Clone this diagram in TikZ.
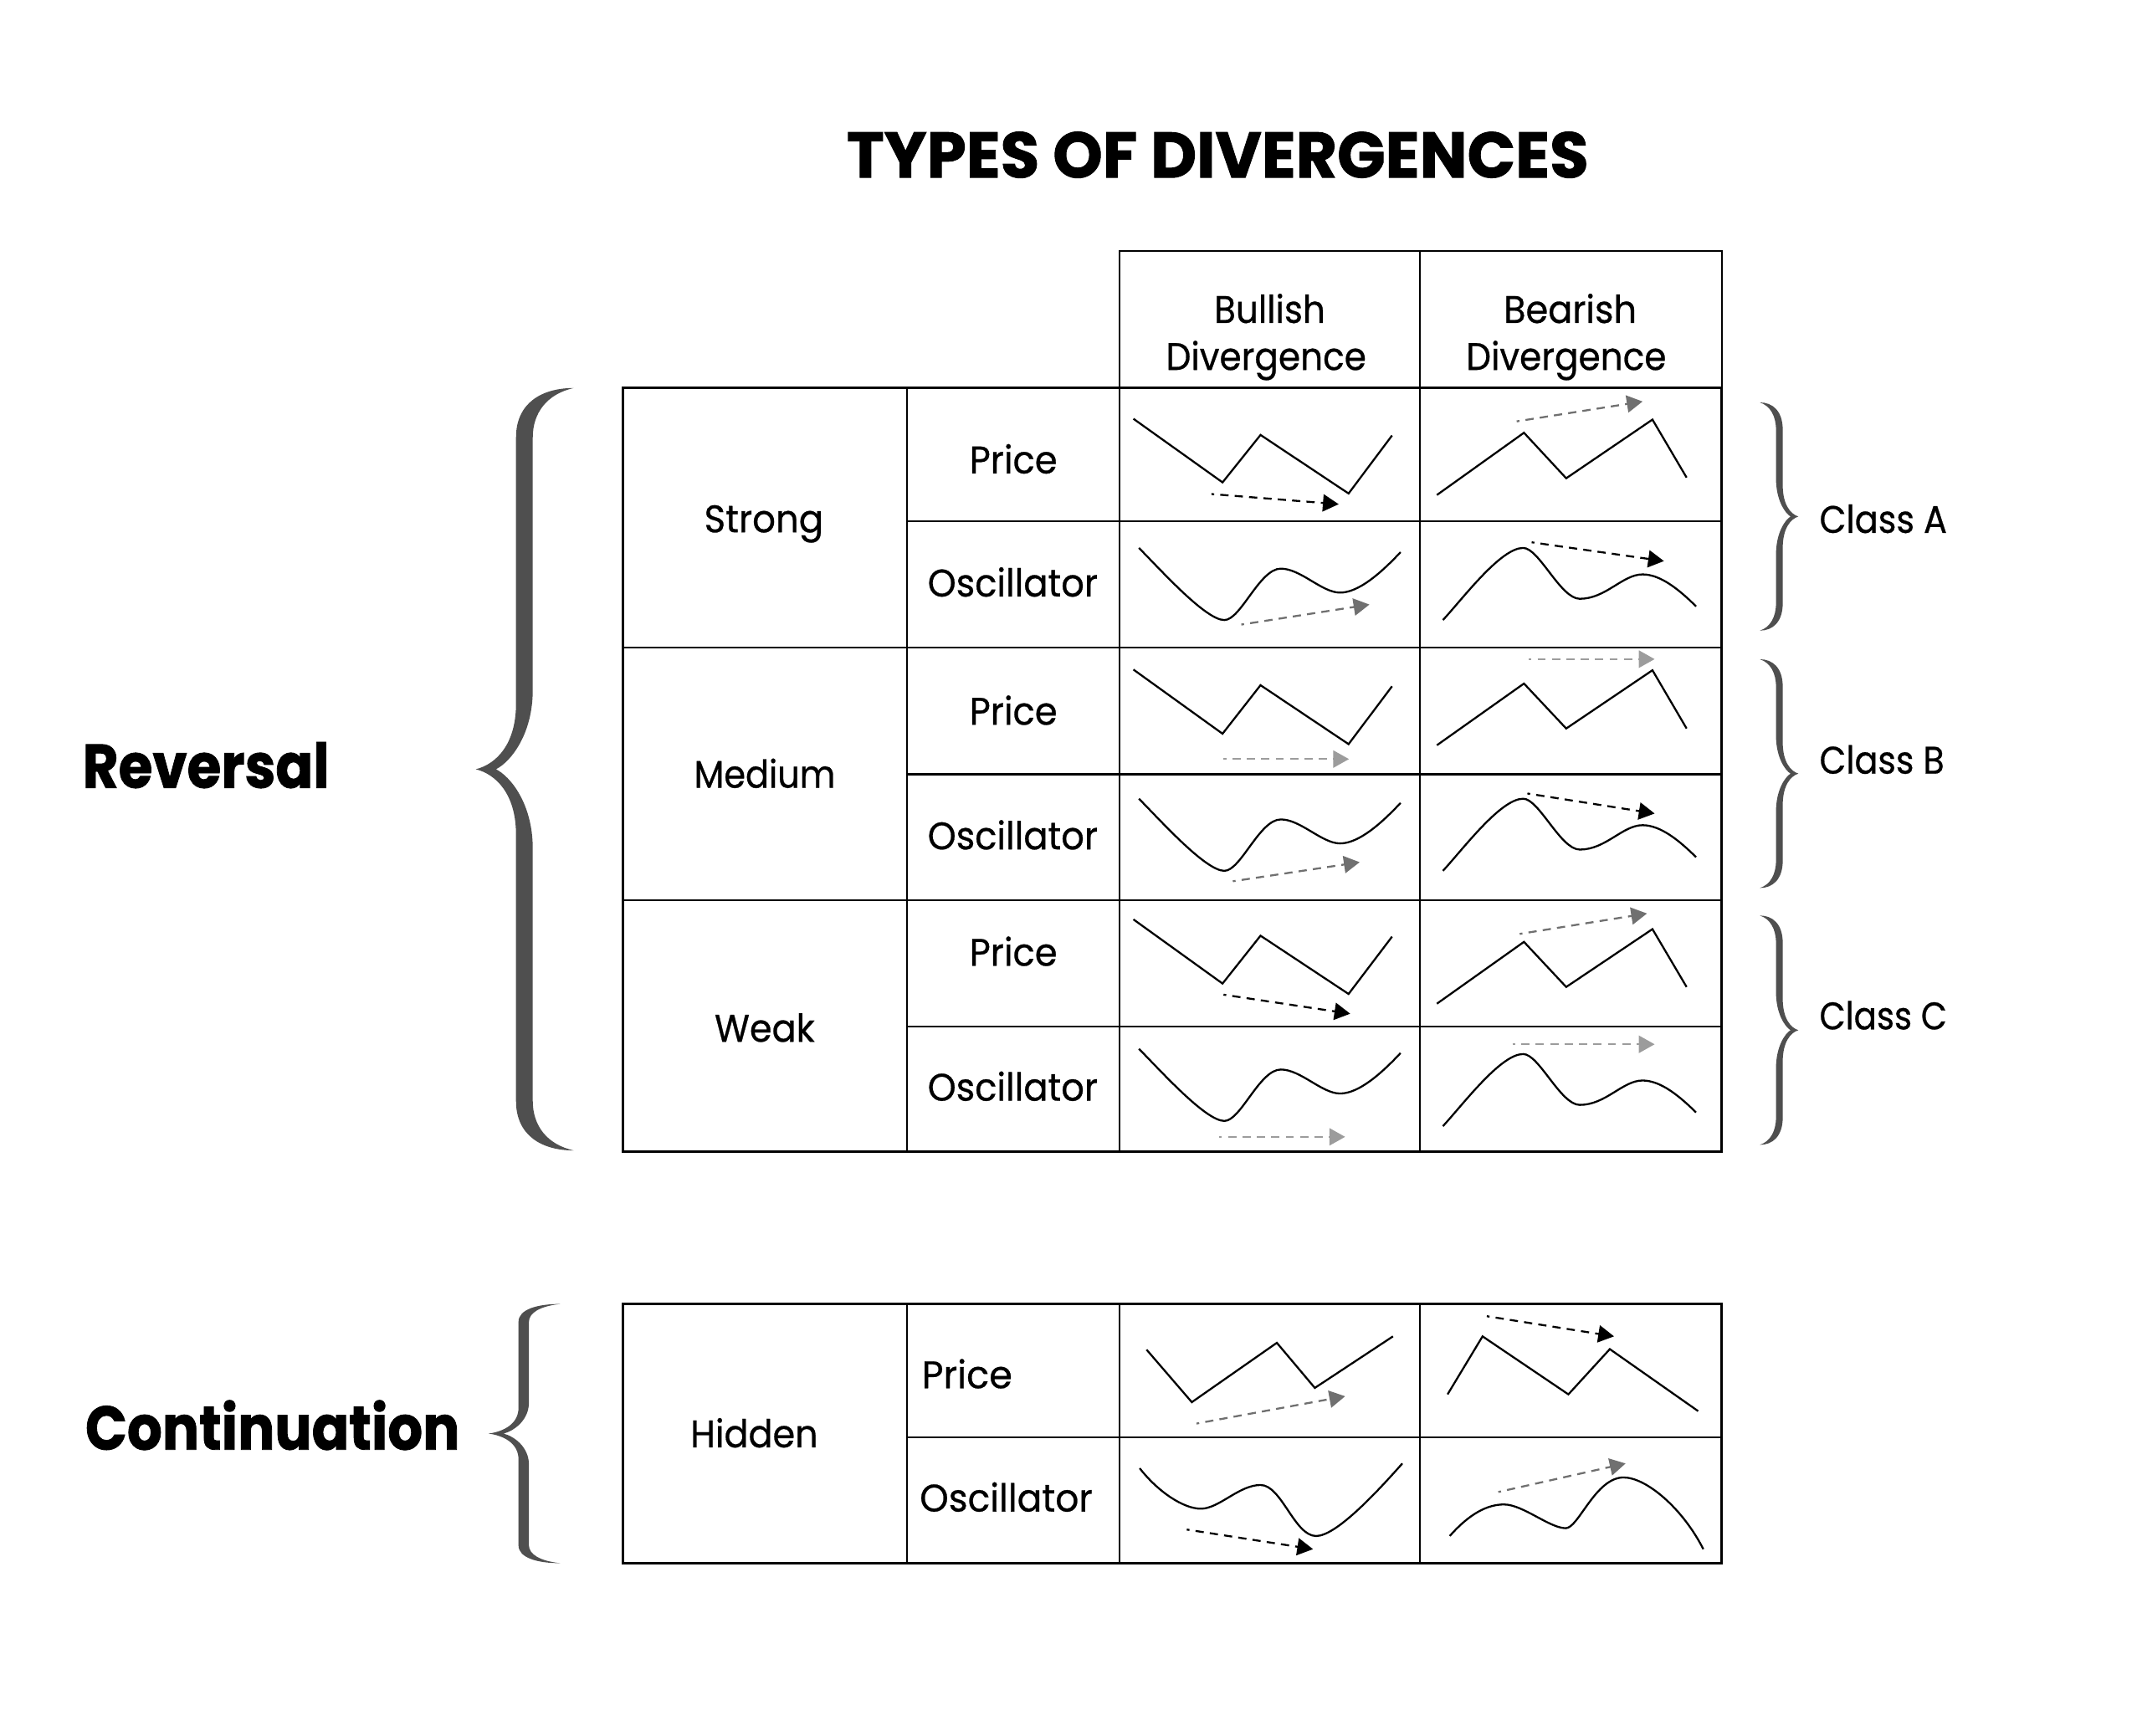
\documentclass[tikz,border=0pt]{standalone}
\usepackage{graphicx}
\usepackage{fontspec}
\setmainfont{Poppins}
\newfontfamily\lblfont{Poppins}[FakeBold=0.6]
\newfontfamily\heavyfont{Poppins}[BoldFeatures={FakeBold=1.2}]
\usetikzlibrary{arrows.meta}
\definecolor{bracecol}{HTML}{4F4F4F}
\definecolor{arrdark}{HTML}{707070}
\definecolor{arrlight}{HTML}{9C9C9C}
\newcommand\fw[2]{\resizebox{#1pt}{\height}{#2}}
\newcommand\cbrace[9]{%
  \pgfmathsetmacro\bYm{(#8+#9)/2}%
  \pgfmathsetmacro\bXi{#1+(#2)*#3}%
  \pgfmathsetmacro\bXa{#1-(#2)*#4}%
  \pgfmathsetmacro\bXn{#1-(#2)*#4*0.5}%
  \pgfmathsetmacro\bXnc{#1-(#2)*#4*0.15}%
  \pgfmathsetmacro\bXac{#1-(#2)*#4*0.5}%
  \pgfmathsetmacro\bXe{#1+(#2)*#5}%
  \pgfmathsetmacro\bXc{#1+(#2)*#5*0.45}%
  \pgfmathsetmacro\bXci{#1+(#2)*(#3+(#5-#3)*0.35)}%
  \pgfmathsetmacro\bYa{#8+0.3*#6}%
  \pgfmathsetmacro\bYb{#8+#6}%
  \pgfmathsetmacro\bYc{\bYm-1.04*#7}%
  \pgfmathsetmacro\bYd{\bYm-0.39*#7}%
  \pgfmathsetmacro\bYe{\bYm-0.08*#7}%
  \pgfmathsetmacro\bYf{\bYm+0.08*#7}%
  \pgfmathsetmacro\bYg{\bYm+0.39*#7}%
  \pgfmathsetmacro\bYh{\bYm+1.04*#7}%
  \pgfmathsetmacro\bYi{#9-#6}%
  \pgfmathsetmacro\bYj{#9-0.3*#6}%
  \pgfmathsetmacro\bYk{#9-0.12*#6}%
  \pgfmathsetmacro\bYl{#9-0.5*#6}%
  \pgfmathsetmacro\bYn{\bYm+1.26*#7}%
  \pgfmathsetmacro\bYo{\bYm+0.54*#7}%
  \pgfmathsetmacro\bYp{\bYm+0.11*#7}%
  \pgfmathsetmacro\bYq{\bYm-0.11*#7}%
  \pgfmathsetmacro\bYr{\bYm-0.54*#7}%
  \pgfmathsetmacro\bYs{\bYm-1.26*#7}%
  \pgfmathsetmacro\bYt{#8+0.5*#6}%
  \pgfmathsetmacro\bYu{#8+0.12*#6}%
  \fill[bracecol] (\bXe,#8) .. controls (\bXc,#8) and (#1,\bYa) .. (#1,\bYb)
    -- (#1,\bYc) .. controls (#1,\bYd) and (\bXac,\bYe) .. (\bXa,\bYm)
    .. controls (\bXac,\bYf) and (#1,\bYg) .. (#1,\bYh)
    -- (#1,\bYi) .. controls (#1,\bYj) and (\bXc,#9) .. (\bXe,#9)
    .. controls (\bXci,\bYk) and (\bXi,\bYl) .. (\bXi,\bYi)
    -- (\bXi,\bYn) .. controls (\bXi,\bYo) and (\bXnc,\bYp) .. (\bXn,\bYm)
    .. controls (\bXnc,\bYq) and (\bXi,\bYr) .. (\bXi,\bYs)
    -- (\bXi,\bYb) .. controls (\bXi,\bYt) and (\bXci,\bYu) .. (\bXe,#8) -- cycle;
}
\newcommand\bullosc[1]{\draw[curve] (830.5,#1) .. controls (845.5,#1+15) and (879,#1+52.6) .. (892.8,#1+52.6)
  .. controls (904.8,#1+52.6) and (918.5,#1+15.1) .. (934,#1+15.1)
  .. controls (948.5,#1+15.1) and (963.9,#1+32.6) .. (977.2,#1+32.6)
  .. controls (990.9,#1+32.6) and (1007.3,#1+18) .. (1021.3,#1+3.1);}
\newcommand\bearosc[1]{\draw[curve] (1052.2,#1+52.6) .. controls (1067,#1+36.6) and (1094.3,#1) .. (1110.7,#1)
  .. controls (1122.3,#1) and (1138,#1+37.1) .. (1152,#1+37.1)
  .. controls (1171,#1+37.1) and (1183.2,#1+19.3) .. (1197.8,#1+19.3)
  .. controls (1211.2,#1+19.3) and (1225,#1+31) .. (1236.8,#1+42.6);}
\begin{document}
\begin{tikzpicture}[x=1pt,y=-1pt,
  tbl/.style={line width=1.3pt,draw=black},
  outerbox/.style={line width=1.8pt,draw=black},
  curve/.style={line width=1.4pt,line join=miter},
  darr/.style={line width=1.4pt,dash pattern=on 6pt off 4.5pt,dash phase=4pt,-{Triangle[length=11.5pt,width=12.5pt]}},
  blk/.style={darr,color=black},
  gry/.style={darr,color=arrdark},
  lgry/.style={darr,color=arrlight},
  lbl/.style={font=\lblfont\fontsize{28}{32}\selectfont,inner sep=0pt,anchor=base},
  lblw/.style={lbl,anchor=base west},
  big/.style={font=\heavyfont\fontsize{45}{52}\selectfont\bfseries,inner sep=0pt,anchor=base west}]
\fill[white] (0,0) rectangle (1562,1266);
\useasboundingbox (0,0) rectangle (1562,1266);

% title
\node[inner sep=0pt,anchor=base] (title) at (888,129.5) {\fw{541}{\heavyfont\fontsize{47}{55}\selectfont\bfseries TYPES OF DIVERGENCES}};

% header box
\draw[tbl] (816.6,183) rectangle (1255.5,282.7);
\draw[tbl] (1035.3,183) -- (1035.3,282.7);
\node[lbl] (hb1) at (925.9,235.5) {\fw{81}{Bullish}};
\node[lbl] (hb2) at (923.3,269.8) {\fw{146}{Divergence}};
\node[lbl] (hr1) at (1145,235.5) {\fw{97}{Bearish}};
\node[lbl] (hr2) at (1142.1,269.8) {\fw{146}{Divergence}};

% main table
\draw[tbl] (661.3,282.7) -- (661.3,840);
\draw[tbl] (816.6,282.7) -- (816.6,840);
\draw[tbl] (1035.3,282.7) -- (1035.3,840);
\draw[tbl] (454,472.4) -- (1255.5,472.4);
\draw[tbl] (454,656.4) -- (1255.5,656.4);
\draw[tbl] (661.3,379.9) -- (1255.5,379.9);
\draw[tbl] (661.3,564.7) -- (1255.5,564.7);
\draw[tbl] (661.3,748.4) -- (1255.5,748.4);
\draw[outerbox] (454,282.7) rectangle (1255.5,840);

% bottom table
\draw[tbl] (661.3,950.8) -- (661.3,1139.9);
\draw[tbl] (816.6,950.8) -- (816.6,1139.9);
\draw[tbl] (1035.3,950.8) -- (1035.3,1139.9);
\draw[tbl] (661.3,1048) -- (1255.5,1048);
\draw[outerbox] (454,950.8) rectangle (1255.5,1139.9);

% row labels
\node[lbl] (strong) at (557,388.2) {\fw{87}{Strong}};
\node[lbl] (p1) at (739,345.2) {\fw{64}{Price}};
\node[lbl] (o1) at (738.5,435) {\fw{124}{Oscillator}};
\node[lbl] (medium) at (557.7,574.5) {\fw{103}{Medium}};
\node[lbl] (p2) at (739,528.5) {\fw{64}{Price}};
\node[lbl] (o2) at (738.5,619.4) {\fw{124}{Oscillator}};
\node[lbl] (weak) at (557.6,759.7) {\fw{73}{Weak}};
\node[lbl] (p3) at (739,704.3) {\fw{64}{Price}};
\node[lbl] (o3) at (738.5,802.7) {\fw{124}{Oscillator}};
\node[lbl] (hidden) at (550,1055.5) {\fw{93}{Hidden}};
\node[lblw] (p4) at (672,1012.4) {\fw{66}{Price}};
\node[lblw] (o4) at (670.5,1102.3) {\fw{126}{Oscillator}};

% class labels
\node[lblw] (ca) at (1326.6,388.6) {\fw{93}{Class A}};
\node[lblw] (cb) at (1326.6,564.2) {\fw{91}{Class B}};
\node[lblw] (cc) at (1326.6,750.7) {\fw{93}{Class C}};

% big labels
\node[big] (rev) at (60,574.5) {\fw{180}{Reversal}};
\node[big] (cont) at (62,1057.2) {\fw{273}{Continuation}};

% braces
\cbrace{376.3}{1}{12.2}{29.3}{42}{36}{46}{283}{839}
\cbrace{378.1}{1}{7.6}{21.8}{30.4}{13}{18}{951}{1140}
\cbrace{1300}{-1}{4.9}{11.4}{16.7}{20}{22}{293.5}{459.9}
\cbrace{1300}{-1}{4.9}{11.4}{16.7}{20}{22}{480.8}{647.6}
\cbrace{1300}{-1}{4.9}{11.4}{16.7}{20}{22}{667.7}{834.9}

% strong row
\draw[curve] (826.5,305.4) -- (891.5,351.8) -- (919.2,317.2) -- (983.4,359.9) -- (1015.1,317.6);
\draw[blk] (883.4,360.3) -- (976.2,367.7);
\draw[curve] (1047.8,361) -- (1111.3,315.6) -- (1142.1,348.8) -- (1205,306) -- (1229.9,348.3);
\draw[gry] (1106,307.3) -- (1197.8,292.8);
\bullosc{399.6}
\draw[gry] (905.2,455.5) -- (998.6,440.9);
\bearosc{399.6}
\draw[blk] (1116.9,395.5) -- (1213.4,409.2);

% medium row
\draw[curve] (826.5,488.3) -- (891.5,535.1) -- (919.2,499.7) -- (983.4,542.7) -- (1015.1,500.5);
\draw[lgry] (892.2,553.6) -- (983.7,553.6);
\draw[curve] (1047.8,543.5) -- (1111.3,498.5) -- (1142.1,531.3) -- (1205,488.8) -- (1229.9,531.3);
\draw[lgry] (1114.7,480.7) -- (1206.6,480.7);
\bullosc{582.5}
\draw[gry] (899,642.7) -- (991.5,628.8);
\bearosc{582.5}
\draw[blk] (1113.8,578.7) -- (1206.6,593.3);

% weak row
\draw[curve] (826.5,670.5) -- (891.5,717.3) -- (919.2,682.4) -- (983.4,724.9) -- (1015.1,683.1);
\draw[blk] (892.2,725.4) -- (984.6,739.3);
\draw[curve] (1047.8,732) -- (1111.3,686.9) -- (1142.1,719.8) -- (1205,677.6) -- (1229.9,719.8);
\draw[gry] (1108.2,681.1) -- (1201,666.2);
\bullosc{764.9}
\draw[lgry] (889,829.1) -- (980.9,829.1);
\bearosc{768.7}
\draw[lgry] (1102.9,761.6) -- (1206.6,761.6);

% hidden row
\draw[curve] (836.1,984.3) -- (869.1,1022.6) -- (931.1,979.3) -- (958.8,1012.2) -- (1015.8,974.6);
\draw[gry] (872.5,1038.2) -- (980.9,1018.3);
\draw[curve] (1055.6,1016.9) -- (1081.1,974.6) -- (1143.7,1016.9) -- (1173.9,983.9) -- (1238.3,1029.1);
\draw[blk] (1084.2,959.9) -- (1177,974.6);
\draw[curve] (831.1,1070.8) .. controls (844.5,1088) and (863,1100.3) .. (875.7,1100.3)
  .. controls (889,1100.3) and (903.5,1083) .. (919.2,1083)
  .. controls (934.5,1083) and (944,1120.2) .. (959.7,1120.2)
  .. controls (974,1120.2) and (1002.5,1090) .. (1022.6,1067.3);
\draw[blk] (865.4,1115.5) -- (957.5,1129.8);
\draw[curve] (1057.2,1120.2) .. controls (1071.5,1104) and (1084.5,1097.2) .. (1096.7,1097.2)
  .. controls (1110.5,1097.2) and (1130,1114.5) .. (1141.8,1114.5)
  .. controls (1151,1114.5) and (1163.5,1077.5) .. (1183.9,1077.5)
  .. controls (1200.5,1077.5) and (1227,1100) .. (1242.1,1129.8);
\draw[gry] (1092.6,1088.1) -- (1185.4,1067.3);
\end{tikzpicture}
\end{document}
